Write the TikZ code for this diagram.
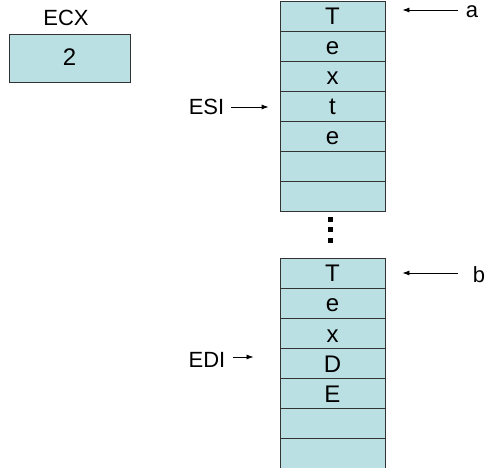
\documentclass[tikz,border=0pt]{standalone}
\usepackage{fontspec}
\setmainfont{Liberation Sans}
\usetikzlibrary{arrows.meta,calc}
\definecolor{cellfill}{RGB}{187,224,227}
\begin{document}
\begin{tikzpicture}[x=1pt,y=-1pt,
	cell/.style={draw=black!80, line width=0.8pt, fill=cellfill, minimum width=105pt, minimum height=30pt,
		inner sep=0pt, text height=18pt, text depth=0pt, font=\fontsize{24}{24}\selectfont},
	lbl/.style={inner sep=0pt, font=\fontsize{22}{22}\selectfont},
	arr/.style={line width=0.8pt, -{Latex[length=7pt,width=5pt]}}]
	\useasboundingbox (0,0) rectangle (488,468);

	% ECX register
	\node[lbl] (ecxname) at (66,18) {ECX};
	\node[cell, minimum width=121pt, minimum height=48pt, text height=16pt] (ecx) at (69.5,58) {2};

	% string a
	\foreach \ch [count=\i] in {T,e,x,t,e,{},{}}
		\node[cell] (sa\i) at (332.5,30*\i-14) {\ch};
	% string b
	\foreach \ch [count=\i] in {T,e,x,D,E,{},{}}
		\node[cell] (sb\i) at (332.5,30*\i+243) {\ch};

	% dots between the strings
	\foreach \k in {0,1,2}
		\fill (327.5,217+10.5*\k) rectangle ++(5,5);

	% pointers
	\node[lbl] (pa) at (472,12) {a};
	\node[lbl] (pb) at (479,275) {b};
	\draw[arr] ($(pa.west)+(-8,-2)$) -- ($(pa.west -| sa1.east)+(17,-2)$);
	\draw[arr] ($(pb.west)+(-15,-2)$) -- ($(pb.west -| sb1.east)+(17,-2)$);

	\node[lbl] (esi) at (206.5,107) {ESI};
	\node[lbl] (edi) at (207,360) {EDI};
	\draw[arr] ($(esi.east)+(7,0)$) -- ($(esi.east -| sa4.west)+(-11,0)$);
	\draw[arr] ($(edi.east)+(7,-3)$) -- ($(edi.east)+(28,-3)$);
\end{tikzpicture}
\end{document}
